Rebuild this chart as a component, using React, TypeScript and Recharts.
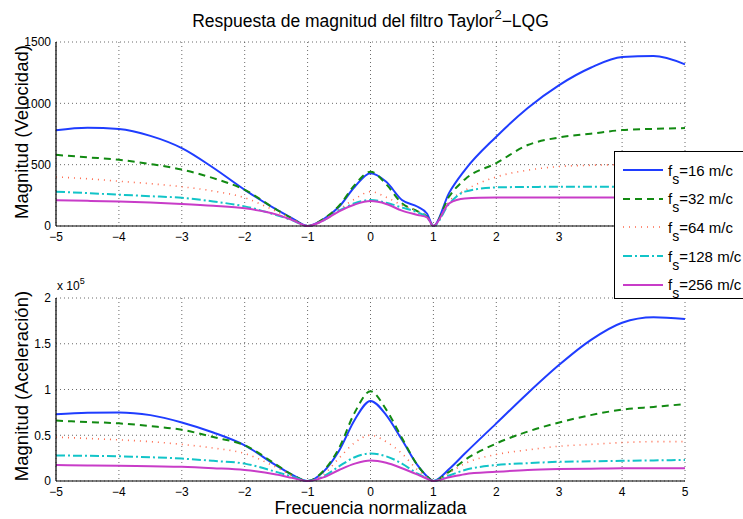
import { LineChart, Line, XAxis, YAxis, CartesianGrid } from 'recharts'

// eje de frecuencia normalizada
const freq = [-5, -4.5, -4, -3.5, -3, -2.5, -2, -1.5, -1.25, -1, -0.75, -0.5, -0.25, 0, 0.25, 0.5, 0.75, 0.9, 1, 1.25, 1.5, 2, 2.5, 3, 3.5, 4, 4.5, 5]

// magnitud (velocidad)
const vel16 = [780, 800, 790, 735, 635, 475, 295, 135, 65, 0, 55, 157, 320, 430, 360, 212, 157, 100, 0, 270, 456, 728, 962, 1149, 1290, 1378, 1385, 1318]
const vel32 = [580, 560, 540, 505, 460, 390, 295, 135, 62, 0, 58, 165, 335, 443, 340, 185, 120, 75, 0, 240, 380, 513, 660, 722, 752, 782, 792, 798]
const vel64 = [400, 385, 365, 345, 320, 285, 230, 120, 60, 0, 50, 135, 220, 280, 235, 170, 120, 75, 0, 200, 290, 400, 455, 485, 495, 500, 500, 500]
const vel128 = [280, 268, 255, 243, 230, 200, 160, 90, 48, 0, 45, 125, 185, 212, 190, 150, 110, 70, 0, 180, 280, 315, 318, 320, 320, 320, 320, 320]
const vel256 = [210, 205, 200, 192, 180, 165, 144, 95, 50, 0, 45, 120, 175, 203, 180, 125, 90, 70, 0, 185, 225, 232, 233, 233, 232, 232, 231, 230]

// magnitud (aceleracion), en unidades de 1e5
const acc16 = [0.73, 0.745, 0.75, 0.72, 0.64, 0.53, 0.39, 0.17, 0.07, 0, 0.1, 0.33, 0.67, 0.875, 0.72, 0.45, 0.17, 0.05, 0, 0.13, 0.3, 0.63, 0.96, 1.27, 1.54, 1.73, 1.79, 1.77]
const acc32 = [0.66, 0.645, 0.63, 0.6, 0.56, 0.48, 0.39, 0.18, 0.07, 0, 0.11, 0.36, 0.75, 0.98, 0.78, 0.47, 0.17, 0.05, 0, 0.1, 0.23, 0.41, 0.54, 0.64, 0.72, 0.78, 0.81, 0.84]
const acc64 = [0.48, 0.465, 0.45, 0.43, 0.4, 0.36, 0.3, 0.15, 0.06, 0, 0.07, 0.25, 0.42, 0.5, 0.43, 0.3, 0.12, 0.04, 0, 0.09, 0.19, 0.29, 0.34, 0.38, 0.4, 0.42, 0.43, 0.43]
const acc128 = [0.28, 0.275, 0.27, 0.26, 0.245, 0.22, 0.19, 0.1, 0.05, 0, 0.05, 0.16, 0.26, 0.3, 0.27, 0.19, 0.08, 0.03, 0, 0.06, 0.12, 0.175, 0.195, 0.21, 0.215, 0.22, 0.225, 0.23]
const acc256 = [0.175, 0.17, 0.167, 0.16, 0.155, 0.14, 0.12, 0.07, 0.035, 0, 0.04, 0.12, 0.19, 0.225, 0.2, 0.14, 0.07, 0.025, 0, 0.04, 0.075, 0.1, 0.12, 0.13, 0.135, 0.14, 0.14, 0.14]

const xTicks = [-5, -4, -3, -2, -1, 0, 1, 2, 3, 4, 5]
const velTicks = [0, 500, 1000, 1500]
const accTicks = [0, 0.5, 1, 1.5, 2]
const legendNames = ['16', '32', '64', '128', '256']

const estilos = [
  { key: 's16', color: '#1f3dff', dash: undefined, width: 2 },
  { key: 's32', color: '#128a12', dash: '7 5', width: 2 },
  { key: 's64', color: '#ff6a4d', dash: '1 5', width: 1.6 },
  { key: 's128', color: '#12c4c8', dash: '9 3 2 3', width: 2 },
  { key: 's256', color: '#c83cc8', dash: undefined, width: 2 },
]

const velRows = freq.map((f, i) => ({ f, s16: vel16[i], s32: vel32[i], s64: vel64[i], s128: vel128[i], s256: vel256[i] }))
const accRows = freq.map((f, i) => ({ f, s16: acc16[i], s32: acc32[i], s64: acc64[i], s128: acc128[i], s256: acc256[i] }))

const FONT = '"Liberation Sans", Arial, sans-serif'
const tick = { fontSize: 12, fill: '#000', fontFamily: FONT }
const fmtX = (v: number) => (v < 0 ? `\u2212${-v}` : `${v}`)

function Panel({ data, domain, ticks, top, height, margin }: {
  data: any[]; domain: number[]; ticks: number[]; top: number; height: number
  margin: { top: number; right: number; bottom: number; left: number }
}) {
  return (
    <div style={{ position: 'absolute', left: 0, top }}>
      <LineChart width={743} height={height} data={data} margin={margin}>
        <CartesianGrid stroke="#444" strokeDasharray="1 3" strokeWidth={0.8} />
        <XAxis dataKey="f" type="number" domain={[-5, 5]} ticks={xTicks} tickFormatter={fmtX}
          tickLine={false} tickSize={4} tickMargin={2} height={20} interval={0}
          axisLine={{ stroke: '#000', strokeWidth: 1.2 }} tick={tick} />
        <XAxis xAxisId="top" orientation="top" dataKey="f" type="number" domain={[-5, 5]}
          height={0} tick={false} tickLine={false} axisLine={{ stroke: '#000', strokeWidth: 1.2 }} />
        <YAxis domain={domain} ticks={ticks} width={56} tickLine={false} tickSize={3} tickMargin={2}
          interval={0} axisLine={{ stroke: '#000', strokeWidth: 1.2 }} tick={tick} />
        <YAxis yAxisId="right" orientation="right" domain={domain} width={0} tick={false}
          tickLine={false} axisLine={{ stroke: '#000', strokeWidth: 1.2 }} />
        {estilos.map((s) => (
          <Line key={s.key} dataKey={s.key} type="monotone" stroke={s.color} strokeWidth={s.width}
            strokeDasharray={s.dash} dot={false} isAnimationActive={false} />
        ))}
      </LineChart>
    </div>
  )
}

function YLabel({ text, cy }: { text: string; cy: number }) {
  return (
    <div style={{
      position: 'absolute', left: 22 - 120, top: cy - 11, width: 240, height: 22,
      textAlign: 'center', fontSize: 18.5, lineHeight: '22px', fontFamily: FONT, transform: 'rotate(-90deg)',
    }}>{text}</div>
  )
}

export default function App() {
  return (
    <div style={{ position: 'absolute', left: 0, top: 0, width: 743, height: 519, overflow: 'hidden', background: '#fff', fontFamily: FONT }}>
      <div style={{ position: 'absolute', left: 0, top: 10, width: 741, textAlign: 'center', fontSize: 17.5, lineHeight: '22px' }}>
        Respuesta de magnitud del filtro Taylor<sup style={{ fontSize: 13, verticalAlign: 8, lineHeight: 0 }}>2</sup>{'\u2212'}LQG
      </div>

      <Panel data={velRows} domain={[0, 1500]} ticks={velTicks} top={0} height={260}
        margin={{ top: 42, right: 58, bottom: 14, left: 0 }} />
      <Panel data={accRows} domain={[0, 2]} ticks={accTicks} top={260} height={259}
        margin={{ top: 38, right: 58, bottom: 18, left: 0 }} />

      <YLabel text="Magnitud (Velocidad)" cy={132} />
      <YLabel text={'Magnitud (Aceleraci\u00f3n)'} cy={386} />

      <div style={{ position: 'absolute', left: 57, top: 279, fontSize: 12 }}>
        x 10<sup style={{ fontSize: 9, verticalAlign: 6, lineHeight: 0 }}>5</sup>
      </div>

      <div style={{ position: 'absolute', left: 0, top: 498, width: 741, textAlign: 'center', fontSize: 18, lineHeight: '20px' }}>
        Frecuencia normalizada
      </div>

      {/* leyenda */}
      <div style={{ position: 'absolute', left: 614, top: 151, width: 150, height: 146, border: '1.2px solid #000', background: '#fff' }}>
        {estilos.map((s, i) => (
          <div key={s.key} style={{ position: 'absolute', left: 0, top: 8 + i * 28.7, height: 20, display: 'flex', alignItems: 'center' }}>
            <svg width={52} height={20} style={{ display: 'block' }}>
              <line x1={8} x2={48} y1={10} y2={10} stroke={s.color} strokeWidth={s.width} strokeDasharray={s.dash} />
            </svg>
            <span style={{ fontSize: 15, whiteSpace: 'nowrap', marginLeft: 1 }}>
              f<sub style={{ fontSize: 14, verticalAlign: -8, lineHeight: 0 }}>s</sub>={legendNames[i]} m/c
            </span>
          </div>
        ))}
      </div>
    </div>
  )
}
